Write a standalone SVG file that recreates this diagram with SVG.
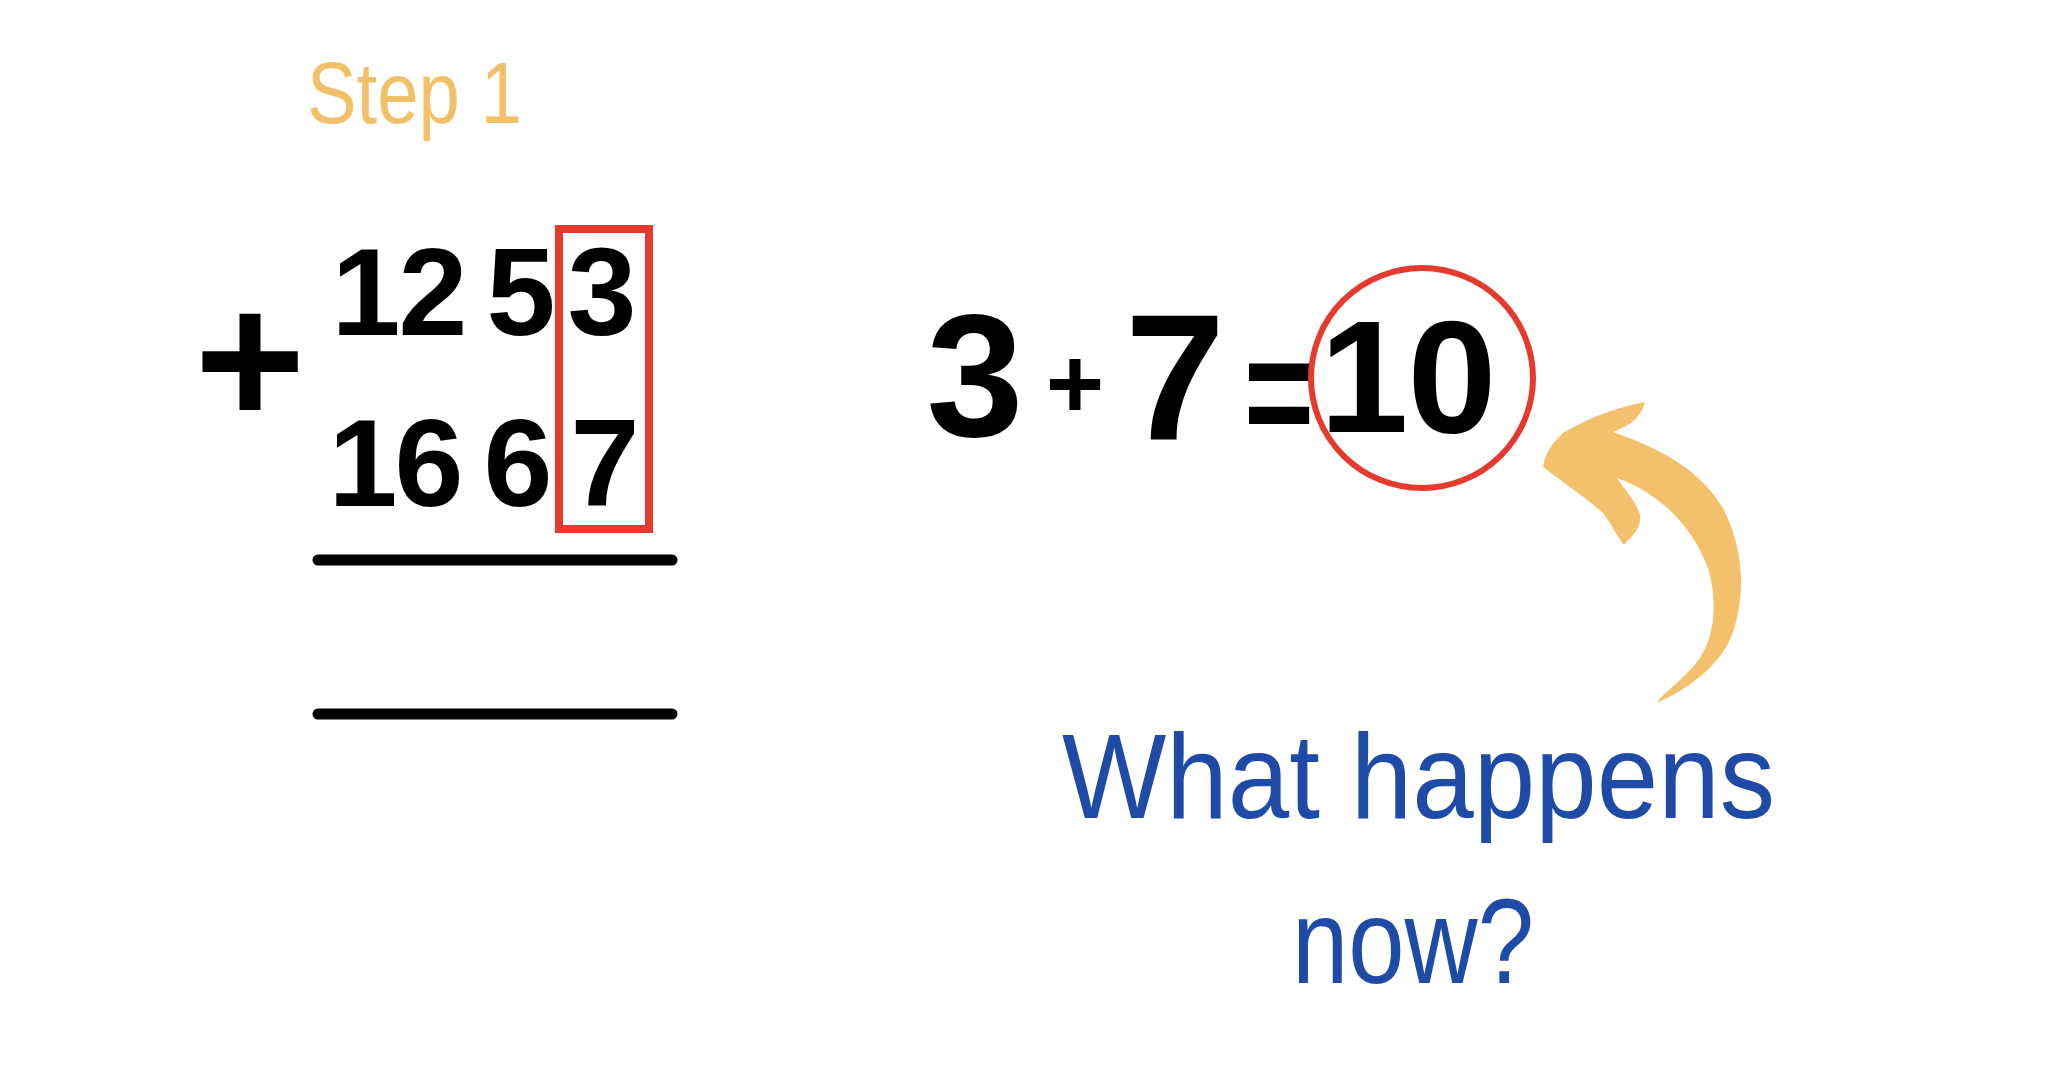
<svg xmlns="http://www.w3.org/2000/svg" width="2048" height="1080" viewBox="0 0 2048 1080">
<style>
.num{font-family:"Liberation Sans","DejaVu Sans",sans-serif;font-weight:bold;fill:#000;text-anchor:middle}
.blue{font-family:"Liberation Sans","DejaVu Sans",sans-serif;fill:#1F4AA6}
.orange{font-family:"Liberation Sans","DejaVu Sans",sans-serif;fill:#F3C06A}
.rule{stroke:#000;stroke-width:11;stroke-linecap:round;fill:none}
.red{stroke:#E63A2E;fill:none}
</style>
<rect width="2048" height="1080" fill="#fff"/>
<g id="step-title">
<text class="orange" x="307" y="123" font-size="88" textLength="215" lengthAdjust="spacingAndGlyphs">Step 1</text>
</g>
<g id="addition">
<text class="num" x="250" y="425" font-size="190">+</text>
<text class="num" font-size="124" y="335" x="366 433 521 602">1253</text>
<text class="num" font-size="124" y="506" x="363 429 518 605">1667</text>
<rect class="red" x="559" y="229" width="90" height="300" stroke-width="8"/>
<line class="rule" x1="318" y1="560" x2="672" y2="560"/>
<line class="rule" x1="318" y1="714" x2="672" y2="714"/>
</g>
<g id="equation">
<text class="num" x="975" y="436" font-size="175">3</text>
<text class="num" x="1075" y="418" font-size="100">+</text>
<text class="num" x="1175" y="440" font-size="180">7</text>
<text class="num" transform="translate(1279,0) scale(0.75,1)" x="0" y="447" font-size="160">=</text>
<text class="num" font-size="160" y="432" x="1364 1452">10</text>
<ellipse class="red" cx="1422" cy="378" rx="111" ry="110" stroke-width="6"/>
</g>
<g id="arrow">
<path fill="#F3C16B" d="M1657 703 C1690 688 1720 665 1732 635 C1746 595 1744 550 1724 510 C1702 472 1665 450 1613 432 C1628 426 1640 420 1645 402 C1610 409 1585 420 1563 433 C1550 445 1545 455 1543 467 C1560 480 1585 497 1603 513 C1612 525 1618 538 1624 545 C1630 537 1642 530 1640 515 C1637 503 1625 490 1617 478 C1652 490 1690 520 1708 568 C1720 610 1713 650 1687 673 C1674 687 1662 694 1657 703 Z"/>
</g>
<g id="question">
<text class="blue" x="1062" y="818" font-size="120" textLength="713" lengthAdjust="spacingAndGlyphs">What happens</text>
<text class="blue" x="1292" y="983" font-size="120" textLength="242" lengthAdjust="spacingAndGlyphs">now?</text>
</g>
</svg>
